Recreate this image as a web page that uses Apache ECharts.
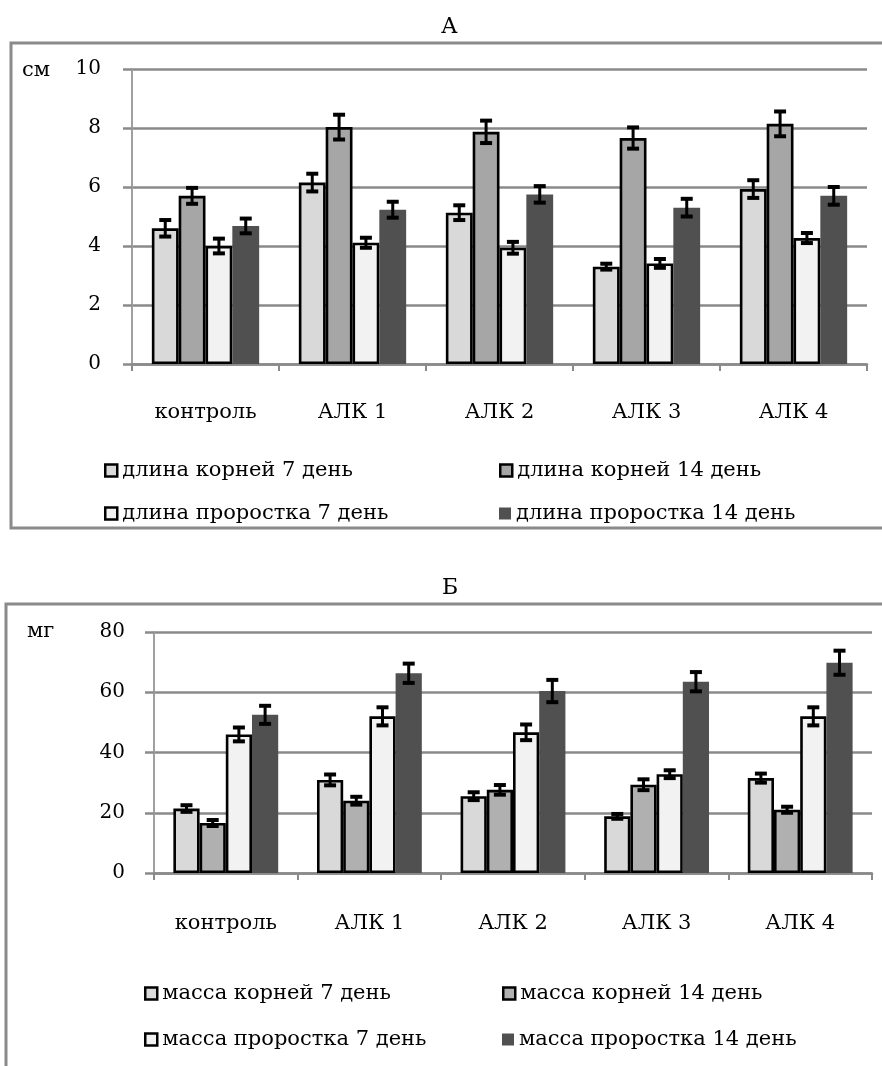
<!DOCTYPE html>
<html><head><meta charset="utf-8">
<script src="https://cdn.jsdelivr.net/npm/echarts@6/dist/echarts.min.js"></script>
<style>html,body{margin:0;padding:0;background:#fff}#c{width:882px;height:1066px}</style>
</head><body><div id="c"></div>
<script>
const categories = ['контроль', 'АЛК 1', 'АЛК 2', 'АЛК 3', 'АЛК 4'];
const yTicksA = [0, 2, 4, 6, 8, 10];
const yTicksB = [0, 20, 40, 60, 80];

const namesA = ['длина корней 7 день', 'длина корней 14 день', 'длина проростка 7 день', 'длина проростка 14 день'];
const lenRoot7 = [4.6, 6.15, 5.13, 3.3, 5.93];
const lenRoot14 = [5.7, 8.03, 7.87, 7.66, 8.14];
const lenShoot7 = [4.0, 4.11, 3.94, 3.41, 4.27];
const lenShoot14 = [4.68, 5.23, 5.75, 5.3, 5.7];
const errLenRoot7 = [0.28, 0.3, 0.25, 0.1, 0.3];
const errLenRoot14 = [0.27, 0.42, 0.38, 0.36, 0.42];
const errLenShoot7 = [0.25, 0.17, 0.2, 0.15, 0.17];
const errLenShoot14 = [0.25, 0.27, 0.28, 0.3, 0.3];

const namesB = ['масса корней 7 день', 'масса корней 14 день', 'масса проростка 7 день', 'масса проростка 14 день'];
const massRoot7 = [21.4, 30.9, 25.5, 18.8, 31.5];
const massRoot14 = [16.6, 24.0, 27.6, 29.3, 21.0];
const massShoot7 = [46.0, 52.0, 46.7, 32.8, 52.0];
const massShoot14 = [52.5, 66.3, 60.4, 63.5, 69.8];
const errMassRoot7 = [1.1, 1.8, 1.3, 0.8, 1.5];
const errMassRoot14 = [1.0, 1.3, 1.6, 1.8, 1.0];
const errMassShoot7 = [2.3, 3.0, 2.6, 1.3, 3.0];
const errMassShoot14 = [3.0, 3.2, 3.7, 3.2, 4.0];

const FONT = 'DejaVu Serif';
const FS = 21;
const FS_TICK = 20;
const GAP = 0.27;
const colorsA = ['#d9d9d9', '#a6a6a6', '#f2f2f2', '#505050'];
const colorsB = ['#d9d9d9', '#b0b0b0', '#f2f2f2', '#505050'];
const GRID = '#8a8a8a';

const chart = echarts.init(document.getElementById('c'));

function errRender(params, api) {
  const ci = api.value(0), si = api.value(1), v = api.value(2), e = api.value(3);
  const catW = api.size([1, 0])[0];
  const bw = catW * (1 - GAP) / 4;
  const c = api.coord([ci, v]);
  const x = c[0] + (si - 1.5) * bw;
  const top = api.coord([ci, v + e])[1];
  const bot = api.coord([ci, v - e])[1];
  const cw = 6;
  return {
    type: 'group', children: [
      { type: 'line', shape: { x1: x, y1: top, x2: x, y2: bot }, style: { stroke: '#000', lineWidth: 3 } },
      { type: 'line', shape: { x1: x - cw, y1: top, x2: x + cw, y2: top }, style: { stroke: '#000', lineWidth: 4 } },
      { type: 'line', shape: { x1: x - cw, y1: bot, x2: x + cw, y2: bot }, style: { stroke: '#000', lineWidth: 4 } }
    ]
  };
}

function errData(vals, errs) {
  const out = [];
  vals.forEach((arr, s) => arr.forEach((v, c) => out.push([c, s, v, errs[s][c]])));
  return out;
}

function barSeries(names, vals, colors, axisIdx) {
  return names.map((n, i) => ({
    type: 'bar', name: n, xAxisIndex: axisIdx, yAxisIndex: axisIdx,
    data: vals[i], barGap: '0%', barCategoryGap: (GAP * 100) + '%',
    itemStyle: i < 3 ? { color: colors[i], borderColor: '#000', borderWidth: 2.6 } : { color: colors[i] },
    emphasis: { disabled: true }
  }));
}

function xAx(idx, margin) {
  return {
    gridIndex: idx, type: 'category', data: categories,
    axisLine: { lineStyle: { color: GRID, width: 2.5 } },
    axisTick: { show: true, length: 7, lineStyle: { color: GRID, width: 2 } },
    axisLabel: { margin: margin, fontFamily: FONT, fontSize: FS, color: '#000' }
  };
}
function yAx(idx, ticks, margin) {
  return {
    gridIndex: idx, type: 'value', min: ticks[0], max: ticks[ticks.length - 1],
    interval: ticks[1] - ticks[0],
    axisLine: { show: true, lineStyle: { color: '#a0a0a0', width: 2 } },
    axisTick: { show: true, length: 9, lineStyle: { color: GRID, width: 2.5 } },
    splitLine: { lineStyle: { color: GRID, width: 2.5 } },
    axisLabel: { margin: margin, fontFamily: FONT, fontSize: FS_TICK, color: '#000' }
  };
}

function legendItem(name, color, bordered, left, top) {
  return {
    left: left, top: top, icon: 'rect', itemWidth: 12, itemHeight: 12,
    selectedMode: false,
    data: [{ name: name, itemStyle: bordered ? { color: color, borderColor: '#000', borderWidth: 2.5 } : { color: color, borderWidth: 0 } }],
    textStyle: { fontFamily: FONT, fontSize: FS, color: '#000' }
  };
}

const option = {
  animation: false,
  backgroundColor: '#fff',
  grid: [
    { left: 132, right: 15, top: 69, height: 295 },
    { left: 154, right: 10, top: 632, height: 241 }
  ],
  xAxis: [xAx(0, 38), xAx(1, 40)],
  yAxis: [yAx(0, yTicksA, 31), yAx(1, yTicksB, 29)],
  legend: [
    legendItem(namesA[0], colorsA[0], true, 99, 455),
    legendItem(namesA[1], colorsA[1], true, 494, 455),
    legendItem(namesA[2], colorsA[2], true, 99, 498),
    legendItem(namesA[3], colorsA[3], false, 494, 498),
    legendItem(namesB[0], colorsB[0], true, 139, 978),
    legendItem(namesB[1], colorsB[1], true, 497, 978),
    legendItem(namesB[2], colorsB[2], true, 139, 1024),
    legendItem(namesB[3], colorsB[3], false, 497, 1024)
  ],
  graphic: [
    { type: 'rect', shape: { x: 11, y: 43, width: 900, height: 485 }, style: { fill: 'none', stroke: '#8a8a8a', lineWidth: 3 }, z: -10 },
    { type: 'rect', shape: { x: 6, y: 604, width: 900, height: 500 }, style: { fill: 'none', stroke: '#8a8a8a', lineWidth: 3 }, z: -10 },
    { type: 'text', left: 441, top: 16, style: { text: 'А', font: '22px "' + FONT + '"', fill: '#000' } },
    { type: 'text', left: 442, top: 577, style: { text: 'Б', font: '22px "' + FONT + '"', fill: '#000' } },
    { type: 'text', left: 22, top: 60, style: { text: 'см', font: FS + 'px "' + FONT + '"', fill: '#000' } },
    { type: 'text', left: 27, top: 621, style: { text: 'мг', font: FS + 'px "' + FONT + '"', fill: '#000' } }
  ],
  series: [
    ...barSeries(namesA, [lenRoot7, lenRoot14, lenShoot7, lenShoot14], colorsA, 0),
    ...barSeries(namesB, [massRoot7, massRoot14, massShoot7, massShoot14], colorsB, 1),
    { type: 'custom', xAxisIndex: 0, yAxisIndex: 0, renderItem: errRender, z: 10,
      encode: { x: 0, y: 2 },
      data: errData([lenRoot7, lenRoot14, lenShoot7, lenShoot14], [errLenRoot7, errLenRoot14, errLenShoot7, errLenShoot14]) },
    { type: 'custom', xAxisIndex: 1, yAxisIndex: 1, renderItem: errRender, z: 10,
      encode: { x: 0, y: 2 },
      data: errData([massRoot7, massRoot14, massShoot7, massShoot14], [errMassRoot7, errMassRoot14, errMassShoot7, errMassShoot14]) }
  ]
};
chart.setOption(option);
</script>
</body></html>
